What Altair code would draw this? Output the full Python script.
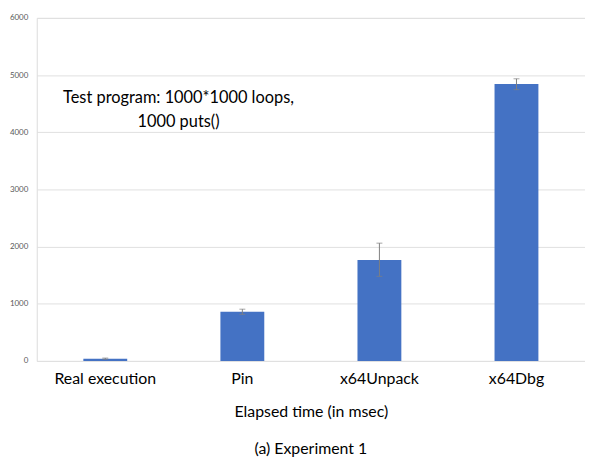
import altair as alt
import pandas as pd

categories = ["Real execution", "Pin", "x64Unpack", "x64Dbg"]
values = [40, 860, 1765, 4845]
err_low = [30, 815, 1480, 4745]
err_high = [50, 905, 2060, 4935]
y_ticks = [0, 1000, 2000, 3000, 4000, 5000, 6000]
note = ["Test program: 1000*1000 loops,", "1000 puts()"]

df = pd.DataFrame({"cat": categories, "val": values, "lo": err_low, "hi": err_high})

FONT = "Lato"
x_axis = alt.Axis(title="Elapsed time (in msec)", labelAngle=0, labelFontSize=16,
                  labelColor="#000000", labelFont=FONT, labelPadding=10,
                  titleFont=FONT, titleFontSize=16, titleFontWeight="normal",
                  titleColor="#000000", titlePadding=17,
                  ticks=False, domain=False, grid=False)
x_scale = alt.Scale(paddingInner=0.68, paddingOuter=0.34)
y_axis = alt.Axis(title=None, values=y_ticks, format="d", labelFontSize=8, labelColor="#595959",
                  labelFont=FONT, ticks=False, domain=False, labelPadding=9,
                  gridColor="#e0e0e0", gridWidth=1)
y_scale = alt.Scale(domain=[0, 6000], nice=False)

def X():
    return alt.X("cat:N", sort=categories, scale=x_scale, axis=x_axis)

def Y(f):
    return alt.Y(f, type="quantitative", scale=y_scale, axis=y_axis)

bars = alt.Chart(df).mark_bar(color="#4472C4").encode(x=X(), y=Y("val"))
rules = alt.Chart(df).mark_rule(color="#808080", strokeWidth=1).encode(
    x=X(), y=Y("lo"), y2="hi:Q")
caps_lo = alt.Chart(df).mark_tick(color="#808080", thickness=1, size=6, orient="horizontal").encode(
    x=X(), y=Y("lo"))
caps_hi = alt.Chart(df).mark_tick(color="#808080", thickness=1, size=6, orient="horizontal").encode(
    x=X(), y=Y("hi"))

text = alt.Chart(pd.DataFrame({"t": [note]})).mark_text(
    font=FONT, fontSize=16.5, color="#000000", align="center", baseline="middle", lineHeight=24
).encode(x=alt.value(143), y=alt.value(81), text="t")

chart = alt.layer(bars, rules, caps_lo, caps_hi, text).properties(
    width=553, height=346,
    autosize=alt.AutoSizeParams(type="none"),
    padding={"left": 29, "top": 8, "right": 0, "bottom": 104},
    title=alt.TitleParams("(a) Experiment 1", orient="bottom", font=FONT, fontSize=16,
                          fontWeight="normal", color="#000000", offset=22),
).configure_view(stroke="transparent", strokeWidth=0
).configure_axis(domain=False, domainOpacity=0
).configure(background="white")

chart.save("out.html", embed_options={"renderer": "svg", "actions": False})
